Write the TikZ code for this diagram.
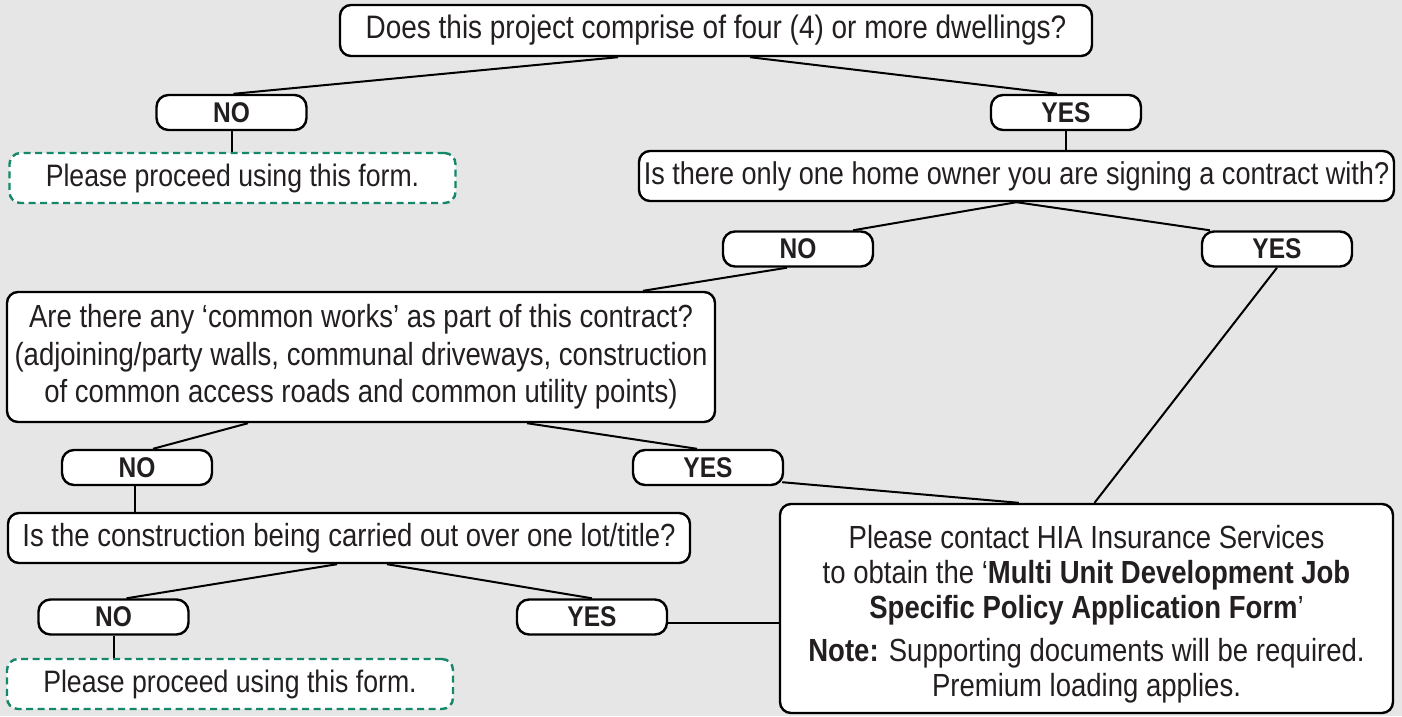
\documentclass[tikz,border=0pt]{standalone}
\usepackage{fontspec}
\setmainfont{Liberation Sans}[FakeStretch=0.86]
\usetikzlibrary{calc}
\usetikzlibrary{positioning}
\pgfdeclarelayer{background}
\pgfsetlayers{background,main}
\definecolor{bggray}{HTML}{E6E6E6}
\definecolor{inkgray}{HTML}{231F20}
\definecolor{formgreen}{HTML}{15876A}
\tikzset{
  question/.style={draw=black, fill=white, line width=2.4pt, rounded corners=11pt,
    inner sep=0pt, align=center, text=inkgray, font=\fontsize{32}{37.5}\selectfont},
  answer/.style={draw=black, fill=white, line width=2.4pt, rounded corners=12pt,
    minimum width=150pt, minimum height=35pt, inner sep=0pt, text=inkgray,
    font=\fontsize{28.5}{28.5}\selectfont\bfseries},
  proceed/.style={draw=formgreen, fill=white, line width=2.4pt, rounded corners=11pt,
    dash pattern=on 7pt off 4.5pt, minimum width=446pt, minimum height=50pt,
    inner sep=0pt, text=inkgray, font=\fontsize{31}{37.5}\selectfont},
  link/.style={draw=black, line width=2pt}
}
\begin{document}
\begin{tikzpicture}[x=1pt,y=-1pt]
  \useasboundingbox (0,0) rectangle (1402,716);

  % questions
  \node [question, minimum width=752pt, minimum height=51pt,
    font=\fontsize{32.5}{37.5}\selectfont] (dwell) at (716,30.5)
    {Does this project comprise of four (4) or more dwellings?};
  \node [question, minimum width=755pt, minimum height=50pt,
    font=\fontsize{31.5}{37.5}\selectfont] (owner) at (1016.5,176)
    {Is there only one home owner you are signing a contract with?};
  \node [question, minimum width=708pt, minimum height=130pt] (common) at (361,357)
    {Are there any ‘common works’ as part of this contract?\\
     (adjoining/party walls, communal driveways, construction\\
     of common access roads and common utility points)};
  \node [question, minimum width=682pt, minimum height=50pt] (lot) at (349,538)
    {Is the construction being carried out over one lot/title?};
  \node [question, minimum width=613pt, minimum height=209pt,
    font=\fontsize{32}{35}\selectfont] (hia) at (1086.5,608.5)
    {\rule{0pt}{34pt}Please contact HIA Insurance Services\\
     to obtain the ‘\textbf{Multi Unit Development Job}\\
     \textbf{Specific Policy Application Form}’\\[8pt]
     \textbf{Note:} Supporting documents will be required.\\
     Premium loading applies.};

  % answers
  \node [answer] (no1)  at (231.5,112.5) {NO};
  \node [answer] (yes1) at (1066,112.5)  {YES};
  \node [answer] (no2)  at (798,249)     {NO};
  \node [answer] (yes2) at (1277,249)    {YES};
  \node [answer] (no3)  at (137,467.5)   {NO};
  \node [answer] (yes3) at (708,467.5)   {YES};
  \node [answer] (no4)  at (113.5,617)   {NO};
  \node [answer] (yes4) at (592,617)     {YES};

  % end points
  \node [proceed] (form1) at (232.5,178) {Please proceed using this form.};
  \node [proceed] (form2) at (230,684)   {Please proceed using this form.};

  \begin{pgfonlayer}{background}
    \fill [bggray] (0,0) rectangle (1402,716);
    \draw [link] ($(dwell.south)+(-98,0)$) -- ($(no1.north)+(2,0)$)
                 ($(dwell.south)+(34,0)$)  -- ($(yes1.north)+(-9,0)$);
    \draw [link] (no1.south) -- (no1.south |- form1.north);
    \draw [link] (yes1.south) -- (yes1.south |- owner.north);
    \draw [link] (owner.south) -- ($(no2.north)+(55,0)$)
                 (owner.south) -- ($(yes2.north)+(-67,0)$);
    \draw [link] ($(no2.south)+(-11,0)$) -- ($(common.north)+(282,0)$);
    \draw [link] (yes2.south) -- ($(hia.north)+(8,0)$);
    \draw [link] ($(common.south)+(-113,0)$) -- ($(no3.north)+(16,0)$)
                 ($(common.south)+(166,0)$)  -- ($(yes3.north)+(-11,0)$);
    \draw [link] ($(yes3.south east)+(-2,-4)$) -- ($(hia.north west)+(240,0)$);
    \draw [link] ($(no3.south)+(-2,0)$) -- ($(no3.south |- lot.north)+(-2,0)$);
    \draw [link] ($(lot.south)+(-12,0)$) -- ($(no4.north)+(13,0)$)
                 ($(lot.south)+(38,0)$)  -- (yes4.north);
    \draw [link] (no4.south) -- (no4.south |- form2.north);
    \draw [link] ($(yes4.east)+(0,6)$) -- ($(yes4.east -| hia.west)+(0,6)$);
  \end{pgfonlayer}
\end{tikzpicture}
\end{document}
